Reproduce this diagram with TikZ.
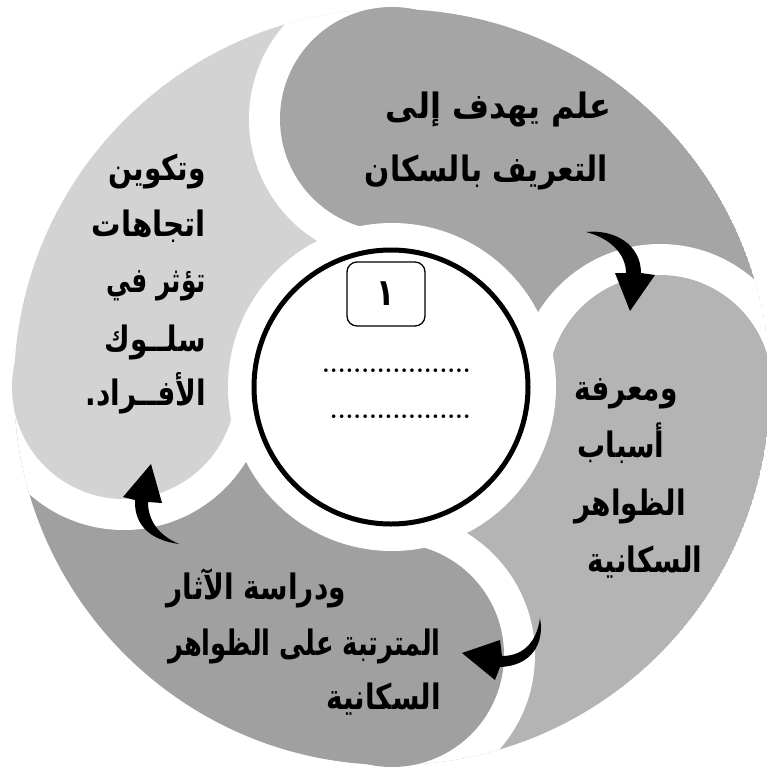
\documentclass[tikz,border=0pt]{standalone}
\usepackage{graphicx}
\usepackage{fontspec}
\newfontfamily\arabicfont[Script=Arabic]{DejaVu Sans}
\TeXXeTstate=1
\newcommand\artxt[2][1]{\scalebox{#1}[1.25]{\arabicfont\bfseries\beginR #2\endR}}
\definecolor{segA}{HTML}{A5A5A5}
\definecolor{segB}{HTML}{B4B4B4}
\definecolor{segC}{HTML}{A0A0A0}
\definecolor{segL}{HTML}{D3D3D3}
\tikzset{
  lbl/.style={inner sep=0pt, font=\fontsize{28}{34}\selectfont},
  dots/.style={inner sep=0pt, font=\fontsize{25}{30}\selectfont\bfseries},
  arrowshape/.style={fill=black},
}
\begin{document}
\begin{tikzpicture}[x=1pt,y=-1pt]
\useasboundingbox (0,0) rectangle (767,772);
\coordinate (O) at (392,387);
\coordinate (HA) at (392,119);
\coordinate (HB) at (660,387);
\coordinate (HC) at (392,655);
\coordinate (HL) at (124,387);
% sectors (tails)
\begin{scope}
\clip (O) -- ++(-90:378) arc[start angle=-90,end angle=0,radius=378] -- cycle;
\fill[segA] (O) circle[radius=378];
\fill[white] (HB) circle[radius=143];
\end{scope}
\begin{scope}
\clip (O) -- ++(0:378) arc[start angle=0,end angle=90,radius=378] -- cycle;
\fill[segB] (O) circle[radius=378];
\fill[white] (HC) circle[radius=143];
\end{scope}
\begin{scope}
\clip (O) -- ++(90:378) arc[start angle=90,end angle=180,radius=378] -- cycle;
\fill[segC] (O) circle[radius=378];
\fill[white] (HL) circle[radius=143];
\end{scope}
\begin{scope}
\clip (O) -- ++(180:378) arc[start angle=180,end angle=270,radius=378] -- cycle;
\fill[segL] (O) circle[radius=378];
\fill[white] (HA) circle[radius=143];
\end{scope}
% heads
\fill[segA] (HA) circle[radius=112];
\fill[segB] (HB) circle[radius=112];
\fill[segC] (HC) circle[radius=112];
\fill[segL] (HL) circle[radius=112];
% inner white ring and central circle
\fill[white] (O) circle[radius=164];
\draw[line width=5pt, fill=white] (391,387) circle[radius=137];
\node[draw, rounded corners=10pt, line width=1.3pt, minimum width=78pt, minimum height=64pt, inner sep=0pt,
  font=\fontsize{30}{34}\selectfont] (numbox) at (386,294) {\artxt{١}};
\node[dots, anchor=base east] (dots1) at (471,372) {...................};
\node[dots, anchor=base east] (dots2) at (471,418) {..................};
% arrows
\fill[arrowshape] (586,232) .. controls (615,229) and (641,245) .. (641,273) -- (655,275) -- (630,311) -- (615,273) -- (626,273) .. controls (626,254) and (610,238) .. (586,232) -- cycle;
\fill[arrowshape] (540,618) .. controls (545,645) and (530,666) .. (500,667) -- (495,680) -- (462,653) -- (500,640) -- (502,656) .. controls (525,656) and (537,640) .. (540,618) -- cycle;
\fill[arrowshape] (179,544) .. controls (150,540) and (134,525) .. (135,500) -- (123,497) -- (151,464) -- (162,503) -- (148,502) .. controls (148,520) and (158,535) .. (179,544) -- cycle;
% texts
\node[lbl, anchor=base east] (a1) at (612,118) {\artxt[1.14]{علم يهدف إلى}};
\node[lbl, anchor=base east] (a2) at (608,181) {\artxt[1.06]{التعريف بالسكان}};
\node[lbl, anchor=base] (b1) at (626,400) {\artxt{ومعرفة}};
\node[lbl, anchor=base] (b2) at (621,457) {\artxt{أسباب}};
\node[lbl, anchor=base] (b3) at (630,515) {\artxt{الظواهر}};
\node[lbl, anchor=base] (b4) at (645,572) {\artxt{السكانية}};
\node[lbl, anchor=base east] (c1) at (346,599) {\artxt{ودراسة الآثار}};
\node[lbl, anchor=base east] (c2) at (441,655) {\artxt[0.92]{المترتبة على الظواهر}};
\node[lbl, anchor=base east] (c3) at (441,709) {\artxt{السكانية}};
\node[lbl, anchor=base east] (l1) at (206,180) {\artxt{وتكوين}};
\node[lbl, anchor=base east] (l2) at (206,236) {\artxt[1.05]{اتجاهات}};
\node[lbl, anchor=base east] (l3) at (206,292) {\artxt[0.88]{تؤثر في}};
\node[lbl, anchor=base east] (l4) at (206,351) {\artxt{سلــوك}};
\node[lbl, anchor=base east] (l5) at (206,405) {\artxt{الأفــراد.}};
\end{tikzpicture}
\end{document}
